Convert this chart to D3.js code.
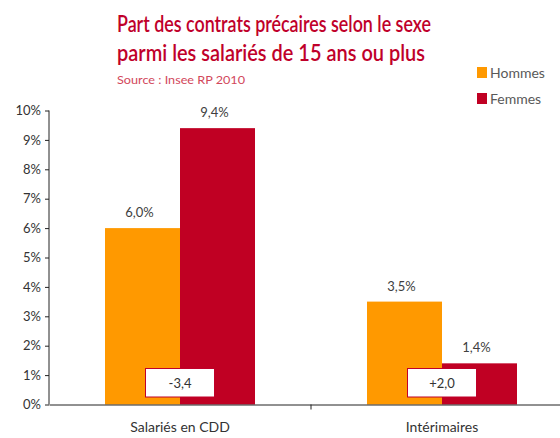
<!DOCTYPE html>
<html>
<head>
<script src="https://d3js.org/d3.v7.min.js"></script>
<style>
  body { margin: 0; background: #fff; }
  svg { font-family: Lato, "Open Sans", sans-serif; }
</style>
</head>
<body>
<div id="chart"></div>
<script>
// données
const categories = ["Salariés en CDD", "Intérimaires"];
const series = ["Hommes", "Femmes"];
const hommes = [6.0, 3.5];
const femmes = [9.4, 1.4];
const ecarts = ["-3,4", "+2,0"];
const yTicks = [0, 1, 2, 3, 4, 5, 6, 7, 8, 9, 10];
const colors = ["#ff9900", "#c00023"];

const W = 560, H = 438;
const svg = d3.select("#chart").append("svg")
    .attr("width", W).attr("height", H);

// titre
const red = "#c0002a";
svg.append("text").attr("x", 117).attr("y", 32)
    .attr("font-size", 22).attr("fill", red).attr("font-weight", 600)
    .attr("textLength", 314).attr("lengthAdjust", "spacingAndGlyphs")
    .text("Part des contrats précaires selon le sexe");
svg.append("text").attr("x", 117).attr("y", 61)
    .attr("font-size", 22).attr("fill", red).attr("font-weight", 600)
    .attr("textLength", 308).attr("lengthAdjust", "spacingAndGlyphs")
    .text("parmi les salariés de 15 ans ou plus");
svg.append("text").attr("x", 117).attr("y", 84)
    .attr("font-size", 12).attr("fill", "#d2475b")
    .attr("textLength", 128).attr("lengthAdjust", "spacingAndGlyphs")
    .text("Source : Insee RP 2010");

// échelles
const x0 = d3.scaleBand().domain(categories).range([49, 573]);
const x1 = d3.scaleBand().domain(series).range([0, 150]);
const y = d3.scaleLinear().domain([0, 10]).range([404.5, 110.5]);

// barres
const rows = categories.map((c, i) => ({cat: c, vals: [hommes[i], femmes[i]], ecart: ecarts[i]}));
const g = svg.selectAll(".grp").data(rows).join("g")
    .attr("transform", d => `translate(${x0(d.cat) + (x0.bandwidth() - 150) / 2},0)`);

g.selectAll("rect").data(d => d.vals.map((v, j) => ({s: series[j], v, j})))
    .join("rect")
    .attr("x", d => x1(d.s))
    .attr("width", x1.bandwidth())
    .attr("y", d => y(d.v))
    .attr("height", d => y(0) - y(d.v))
    .attr("fill", d => colors[d.j]);

g.selectAll(".lbl").data(d => d.vals.map((v, j) => ({s: series[j], v})))
    .join("text")
    .attr("class", "lbl")
    .attr("x", d => x1(d.s) + x1.bandwidth() / 2 - 3)
    .attr("y", d => y(d.v) - 11)
    .attr("text-anchor", "middle")
    .attr("font-size", 13).attr("fill", "#404040")
    .text(d => d3.format(".1f")(d.v).replace(".", ",") + "%");

// encadrés d'écart
g.append("rect")
    .attr("x", 75 - 34.5).attr("y", 368.5)
    .attr("width", 69).attr("height", 28.5)
    .attr("fill", "#fff").attr("stroke", red).attr("stroke-width", 1);
g.append("text")
    .attr("x", 75).attr("y", 387.5)
    .attr("text-anchor", "middle")
    .attr("font-size", 13).attr("fill", "#333")
    .text(d => d.ecart);

// axes
const yAxis = svg.append("g").attr("transform", "translate(49,0)")
    .call(d3.axisLeft(y).tickValues(yTicks).tickSize(4).tickFormat(d => d + "%"));
yAxis.select(".domain").attr("stroke", "#222").attr("d", `M0,${y(10)}V${y(0)}`);
yAxis.selectAll(".tick line").attr("stroke", "#222");
yAxis.selectAll(".tick text").attr("font-size", 13).attr("fill", "#333")
    .attr("font-family", "Lato, sans-serif").attr("x", -8);

const xAxis = svg.append("g").attr("transform", `translate(0,${y(0)})`)
    .call(d3.axisBottom(x0).tickSize(0).tickPadding(18));
xAxis.select(".domain").attr("stroke", "#222");
xAxis.selectAll(".tick text").attr("font-size", 14).attr("fill", "#333")
    .attr("font-family", "Lato, sans-serif");
// repère entre catégories
svg.append("line")
    .attr("x1", x0.range()[0] + x0.step()).attr("x2", x0.range()[0] + x0.step())
    .attr("y1", y(0)).attr("y2", y(0) + 5).attr("stroke", "#222");

// légende
const leg = svg.selectAll(".leg").data(series).join("g")
    .attr("transform", (d, i) => `translate(477,${67 + i * 26})`);
leg.append("rect").attr("width", 10).attr("height", 11)
    .attr("fill", (d, i) => colors[i]);
leg.append("text").attr("x", 13).attr("y", 11)
    .attr("font-size", 14).attr("fill", "#595959").text(d => d);
</script>
</body>
</html>
